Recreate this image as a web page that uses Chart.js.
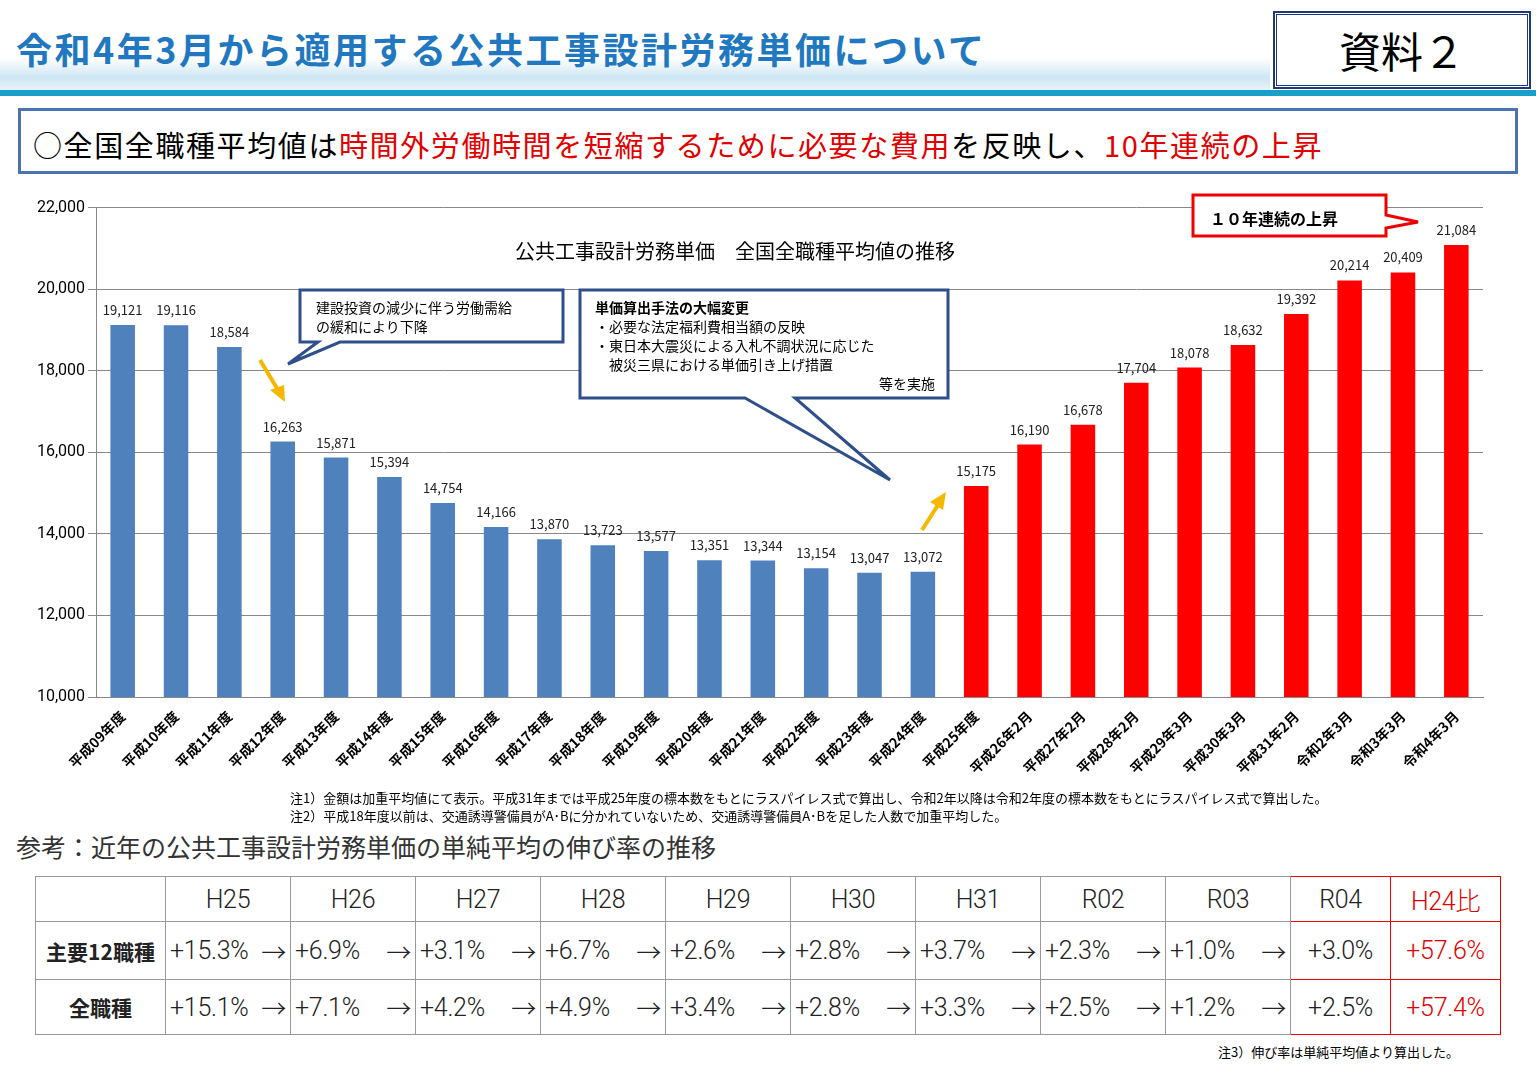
<!DOCTYPE html>
<html><head><meta charset="utf-8">
<script src="https://cdn.jsdelivr.net/npm/chart.js@4"></script>
<style>
body{margin:0;width:1536px;height:1091px;background:#fff;font-family:"Noto Sans CJK JP",sans-serif;position:relative;overflow:hidden}
.abs{position:absolute}
#band{left:0;top:58px;width:1270px;height:32px;background:linear-gradient(to bottom,#fff,#cfe6f3 60%,#e8f3fa);}
#line{left:0;top:90px;width:1536px;height:6px;background:#1aa0c8}
#title{left:16px;top:22px;font-size:36px;font-weight:bold;color:#1f78c0;letter-spacing:2.5px}
#shiryo{left:1274px;top:12px;width:250px;height:70px;border:3px double #1f3a7a;outline:1px solid #1f3a7a;font-size:42px;text-align:center;line-height:70px;background:#fff}
#sub{left:18px;top:108px;width:1500px;height:66px;border:3px solid #4a73b0;font-size:29px;line-height:66px;padding-left:12px;box-sizing:border-box;letter-spacing:1.6px}
.r{color:#e00000}
#cwrap{left:0;top:195px;width:1495px;height:590px}
.note{font-size:13px;color:#000}
table{border-collapse:collapse;table-layout:fixed;width:1465px;position:absolute;left:35px;top:876px;font-family:Roboto,"Noto Sans CJK JP",sans-serif}
td{border:1px solid #999;font-size:25px;font-weight:300;text-align:center;padding:0;color:#222;overflow:hidden;white-space:nowrap;letter-spacing:-0.3px}
td.l{font-family:"Noto Sans CJK JP";font-weight:bold;font-size:21px;letter-spacing:0}
.fx{display:flex;justify-content:space-between;align-items:center;padding:0 4px}
</style></head><body>
<div id="band" class="abs"></div><div id="line" class="abs"></div>
<div id="title" class="abs">令和4年3月から適用する公共工事設計労務単価について</div>
<div id="shiryo" class="abs">資料２</div>
<div id="sub" class="abs">○全国全職種平均値は<span class="r">時間外労働時間を短縮するために必要な費用</span>を反映し、<span class="r">10年連続の上昇</span></div>
<div id="cwrap" class="abs"><canvas id="c"></canvas></div>
<div class="abs" style="left:515px;top:236px;font-size:20px">公共工事設計労務単価　全国全職種平均値の推移</div>
<svg class="abs" style="left:0;top:0" width="1536" height="800">
<polygon points="300,290 563,290 563,342 340,342 288,364 318,342 300,342" fill="#fff" stroke="#2f4f8a" stroke-width="3"/>
<polygon points="580,290 948,290 948,398 795,398 890,480 745,398 580,398" fill="#fff" stroke="#2f4f8a" stroke-width="3"/>
<polygon points="1193,195 1386,195 1386,215 1418,222 1386,228 1386,236 1193,236" fill="#fff" stroke="#e00" stroke-width="3"/>
<line x1="260" y1="360" x2="278" y2="390" stroke="#f5b800" stroke-width="4"/><polygon points="285,402 270,390 284,385" fill="#f5b800"/>
<line x1="922" y1="530" x2="938" y2="505" stroke="#f5b800" stroke-width="4"/><polygon points="946,492 930,502 943,510" fill="#f5b800"/>
</svg>
<div class="abs" style="left:316px;top:298px;font-size:14px;line-height:19px">建設投資の減少に伴う労働需給<br>の緩和により下降</div>
<div class="abs" style="left:595px;top:298px;font-size:14px;line-height:19px;width:340px"><b>単価算出手法の大幅変更</b><br>・必要な法定福利費相当額の反映<br>・東日本大震災による入札不調状況に応じた<br>　被災三県における単価引き上げ措置<div style="text-align:right">等を実施</div></div>
<div class="abs" style="left:1210px;top:206px;font-size:16px;font-weight:bold">１０年連続の上昇</div>
<div class="abs note" style="left:290px;top:788px">注1）金額は加重平均値にて表示。平成31年までは平成25年度の標本数をもとにラスパイレス式で算出し、令和2年以降は令和2年度の標本数をもとにラスパイレス式で算出した。</div>
<div class="abs note" style="left:290px;top:806px">注2）平成18年度以前は、交通誘導警備員がA･Bに分かれていないため、交通誘導警備員A･Bを足した人数で加重平均した。</div>
<div class="abs" style="left:16px;top:828px;font-size:25px;color:#333">参考：近年の公共工事設計労務単価の単純平均の伸び率の推移</div>
<table id="tb"></table>
<div class="abs note" style="left:1218px;top:1042px">注3）伸び率は単純平均値より算出した。</div>
<script>
const categories=["平成09年度","平成10年度","平成11年度","平成12年度","平成13年度","平成14年度","平成15年度","平成16年度","平成17年度","平成18年度","平成19年度","平成20年度","平成21年度","平成22年度","平成23年度","平成24年度","平成25年度","平成26年2月","平成27年2月","平成28年2月","平成29年3月","平成30年3月","平成31年2月","令和2年3月","令和3年3月","令和4年3月"];
const values=[19121,19116,18584,16263,15871,15394,14754,14166,13870,13723,13577,13351,13344,13154,13047,13072,15175,16190,16678,17704,18078,18632,19392,20214,20409,21084];
const tableHeaders=["H25","H26","H27","H28","H29","H30","H31","R02","R03","R04","H24比"];
const rowMain=["+15.3%","+6.9%","+3.1%","+6.7%","+2.6%","+2.8%","+3.7%","+2.3%","+1.0%","+3.0%","+57.6%"];
const rowAll=["+15.1%","+7.1%","+4.2%","+4.9%","+3.4%","+2.8%","+3.3%","+2.5%","+1.2%","+2.5%","+57.4%"];
const tb=document.getElementById('tb');
let cg='<colgroup><col style="width:130px">';for(let i=0;i<9;i++)cg+='<col style="width:125px">';cg+='<col style="width:100px"><col style="width:110px"></colgroup>';
function row(label,arr,hdr,hh){let h='<tr><td class="l" style="height:'+hh+'px">'+label+'</td>';
arr.forEach((v,i)=>{const red=i>=9;const col=i==10?'color:#e00000;':'';
const bd=red?'border:1px solid #e00;':'';
const inner=(i<9&&!hdr)?'<div class="fx"><span>'+v+'</span><span>→</span></div>':v;
h+='<td style="'+col+bd+'">'+inner+'</td>';});
return h+'</tr>';}
tb.innerHTML=cg+row('',tableHeaders,true,44)+row('主要12職種',rowMain,false,57)+row('全職種',rowAll,false,54);
const labelPlugin={id:'lbl',afterDatasetsDraw(ch){const ctx=ch.ctx;const m=ch.getDatasetMeta(0);ctx.save();ctx.font='13px "Noto Sans CJK JP"';ctx.fillStyle='#222';ctx.textAlign='center';
m.data.forEach((b,i)=>{ctx.fillText(values[i].toLocaleString('en-US'),b.x,b.y-10);});ctx.restore();}};
new Chart(document.getElementById('c'),{type:'bar',data:{labels:categories,datasets:[{data:values,backgroundColor:values.map((v,i)=>i<16?'#4f81bd':'#ff0000'),barPercentage:0.46,categoryPercentage:1}]},
options:{responsive:true,maintainAspectRatio:false,animation:false,layout:{padding:{top:10,right:12}},plugins:{legend:{display:false},tooltip:{enabled:false}},
scales:{y:{min:10000,max:22000,ticks:{stepSize:2000,color:'#000',font:{size:16,family:'Roboto'},callback:v=>v.toLocaleString('en-US')},grid:{color:'#888',drawTicks:true,tickLength:8},border:{display:true,color:'#888'},afterFit(a){a.width=96}},
x:{ticks:{color:'#000',font:{size:14,weight:'bold',family:'"Noto Sans CJK JP"'},maxRotation:45,minRotation:45,autoSkip:false},grid:{display:false},border:{color:'#888'},afterFit(a){a.height=88}}}},plugins:[labelPlugin]});
</script></body></html>
